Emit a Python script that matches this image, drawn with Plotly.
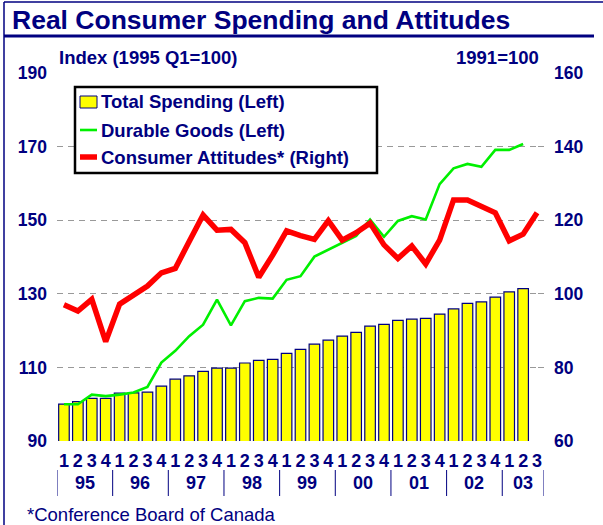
import plotly.graph_objects as go

# quarters shown on the axis: 1995 Q1 .. 2003 Q3
years = ["95", "96", "97", "98", "99", "00", "01", "02", "03"]
quarters = ["1", "2", "3", "4"]
periods = [f"{y} Q{q}" for y in years for q in quarters][:35]
quarter_labels = [p.split("Q")[1] for p in periods]

# Index (1995 Q1=100), left axis -- data runs to 2003 Q2
total_spending = [
    100.0, 100.7, 101.6, 101.6, 103.0, 103.1, 103.3, 104.9, 106.8, 107.7,
    108.9, 109.8, 109.8, 111.2, 111.9, 112.2, 113.8, 114.9, 116.3, 117.4,
    118.5, 119.5, 121.2, 121.7, 122.8, 123.1, 123.3, 124.5, 125.9, 127.4,
    127.8, 129.1, 130.5, 131.4,
]
durable_goods = [
    100.0, 100.0, 102.6, 102.2, 102.6, 103.2, 104.7, 111.3, 114.5, 118.5,
    121.6, 128.4, 121.4, 128.0, 128.9, 128.7, 133.8, 134.8, 140.1, 141.9,
    143.7, 145.7, 150.2, 145.5, 149.8, 151.1, 150.2, 159.8, 164.1, 165.3,
    164.5, 169.1, 169.1, 170.7,
]
# 1991=100, right axis -- runs to 2003 Q3
consumer_attitudes = [
    97.0, 95.3, 98.5, 87.0, 97.2, 99.7, 102.1, 105.7, 106.9, 114.2,
    121.4, 117.3, 117.5, 113.9, 104.5, 110.5, 117.1, 115.8, 114.8, 119.9,
    114.6, 116.6, 119.2, 113.3, 109.6, 113.0, 108.1, 114.6, 125.5, 125.5,
    123.9, 122.0, 114.4, 116.2, 122.0,
]

left_ticks = [90, 110, 130, 150, 170, 190]
right_ticks = [60, 80, 100, 120, 140, 160]

NAVY = "#000080"
FONT = "Arial, Liberation Sans, sans-serif"

# plot area in pixels (used for placing the decorations)
W, H = 603, 525
L, R, T, B = 57, 544, 73, 441


def px_x(x):
    return (x - L) / (R - L)


def px_y(y):
    return (B - y) / (B - T)


fig = go.Figure()

fig.add_trace(go.Bar(
    x=periods[:len(total_spending)], y=total_spending,
    width=0.76,
    marker=dict(color="#FFFF00", line=dict(color=NAVY, width=1.2)),
    showlegend=False,
))
fig.add_trace(go.Scatter(
    x=periods[:len(durable_goods)], y=durable_goods, mode="lines",
    line=dict(color="#00F000", width=2.6),
    showlegend=False,
))
fig.add_trace(go.Scatter(
    x=periods, y=consumer_attitudes, mode="lines", yaxis="y2",
    line=dict(color="#FF0000", width=5.5),
    showlegend=False,
))

shapes = []
annotations = []

# outer border (left + top) and title underline
shapes.append(dict(type="line", xref="paper", yref="paper",
                   x0=px_x(4), x1=px_x(603), y0=px_y(2), y1=px_y(2),
                   line=dict(color=NAVY, width=1.5)))
shapes.append(dict(type="line", xref="paper", yref="paper",
                   x0=px_x(4), x1=px_x(4), y0=px_y(2), y1=px_y(525),
                   line=dict(color=NAVY, width=1.5)))
shapes.append(dict(type="line", xref="paper", yref="paper",
                   x0=px_x(4), x1=px_x(594), y0=px_y(36), y1=px_y(36),
                   line=dict(color=NAVY, width=3)))

annotations.append(dict(text="Real Consumer Spending and Attitudes",
                        xref="paper", yref="paper", x=px_x(10), y=px_y(20),
                        xanchor="left", yanchor="middle", showarrow=False,
                        font=dict(family=FONT, size=26.5, color=NAVY, weight="bold")))
annotations.append(dict(text="Index (1995 Q1=100)", xref="paper", yref="paper",
                        x=px_x(57), y=px_y(57), xanchor="left", yanchor="middle",
                        showarrow=False,
                        font=dict(family=FONT, size=18.5, color=NAVY, weight="bold")))
annotations.append(dict(text="1991=100", xref="paper", yref="paper",
                        x=px_x(541), y=px_y(57), xanchor="right", yanchor="middle",
                        showarrow=False,
                        font=dict(family=FONT, size=18.5, color=NAVY, weight="bold")))
annotations.append(dict(text="*Conference Board of Canada", xref="paper", yref="paper",
                        x=px_x(25), y=px_y(514), xanchor="left", yanchor="middle",
                        showarrow=False,
                        font=dict(family=FONT, size=18.5, color=NAVY)))

# year labels and separators under the quarter numbers
for i, yr in enumerate(years):
    start = i * 4
    end = min(start + 4, len(periods))
    annotations.append(dict(text=yr, xref="x", yref="paper",
                            x=(start + end - 1) / 2, y=px_y(483),
                            xanchor="center", yanchor="middle", showarrow=False,
                            font=dict(family=FONT, size=18, color=NAVY, weight="bold")))
    shapes.append(dict(type="line", xref="x", yref="paper",
                       x0=start - 0.5, x1=start - 0.5, y0=px_y(470), y1=px_y(496),
                       line=dict(color=NAVY, width=1)))
shapes.append(dict(type="line", xref="x", yref="paper",
                   x0=len(periods) - 0.5, x1=len(periods) - 0.5,
                   y0=px_y(470), y1=px_y(496), line=dict(color=NAVY, width=1)))

# legend box
shapes.append(dict(type="rect", xref="paper", yref="paper",
                   x0=px_x(75), x1=px_x(377), y0=px_y(87), y1=px_y(173),
                   fillcolor="white", line=dict(color="black", width=2.5), layer="above"))
shapes.append(dict(type="rect", xref="paper", yref="paper",
                   x0=px_x(80), x1=px_x(97), y0=px_y(96), y1=px_y(108),
                   fillcolor="#FFFF00", line=dict(color=NAVY, width=1), layer="above"))
shapes.append(dict(type="line", xref="paper", yref="paper",
                   x0=px_x(80), x1=px_x(97), y0=px_y(130), y1=px_y(130),
                   line=dict(color="#00F000", width=2.6), layer="above"))
shapes.append(dict(type="line", xref="paper", yref="paper",
                   x0=px_x(80), x1=px_x(97), y0=px_y(157), y1=px_y(157),
                   line=dict(color="#FF0000", width=5.5), layer="above"))
for label, yy in [("Total Spending (Left)", 102),
                  ("Durable Goods (Left)", 130),
                  ("Consumer Attitudes* (Right)", 157)]:
    annotations.append(dict(text=label, xref="paper", yref="paper",
                            x=px_x(99), y=px_y(yy), xanchor="left", yanchor="middle",
                            showarrow=False,
                            font=dict(family=FONT, size=18.5, color=NAVY, weight="bold")))

fig.update_layout(
    width=W, height=H,
    margin=dict(l=L, r=W - R, t=T, b=H - B, autoexpand=False),
    paper_bgcolor="white", plot_bgcolor="white",
    bargap=0.24,
    font=dict(family=FONT, color=NAVY),
    xaxis=dict(
        type="category", range=[-0.5, len(periods) - 0.5],
        tickvals=periods, ticktext=quarter_labels,
        showgrid=False, showline=False, zeroline=False, ticks="",
        tickfont=dict(family=FONT, size=18, color=NAVY, weight="bold"),
        ticklabelstandoff=7,
    ),
    yaxis=dict(
        range=[90, 190], tickvals=left_ticks,
        showgrid=True, gridcolor="#999999", griddash="6px,5px", gridwidth=1.4,
        showline=False, zeroline=False, ticks="",
        tickfont=dict(family=FONT, size=17.5, color=NAVY, weight="bold"),
        ticklabelstandoff=9,
    ),
    yaxis2=dict(
        range=[60, 160], tickvals=right_ticks, overlaying="y", side="right",
        showgrid=False, showline=False, zeroline=False,
        ticks="inside", ticklen=6, tickcolor="#999999", tickwidth=1.4,
        tickfont=dict(family=FONT, size=17.5, color=NAVY, weight="bold"),
        ticklabelstandoff=9,
    ),
    shapes=shapes,
    annotations=annotations,
)

# drop the browser's default page margin so the figure sits at the top-left corner
fig.write_html("out.html", config={"displayModeBar": False},
               post_script="document.body.style.margin = '0';")
